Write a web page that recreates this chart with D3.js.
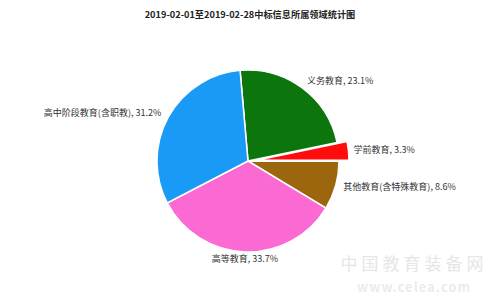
<!DOCTYPE html>
<html>
<head>
<meta charset="utf-8">
<script src="https://d3js.org/d3.v7.min.js"></script>
<style>
  body { margin: 0; background: #fff; }
  text { font-family: "Noto Sans CJK SC", "DejaVu Sans", sans-serif; }
</style>
</head>
<body>
<svg width="500" height="301"></svg>
<script>
    var categories = ["义务教育", "学前教育", "其他教育(含特殊教育)", "高等教育", "高中阶段教育(含职教)"];
    var values = [23.1, 3.3, 8.6, 33.7, 31.2];
    var colors = ["#0c760c", "#ff0d0d", "#9b660d", "#fb6ad3", "#1a9af7"];
    var exploded = [false, true, false, false, false];

    var svg = d3.select("svg");
    var cx = 248, cy = 161, radius = 91;

    svg.append("text")
        .attr("x", 250)
        .attr("y", 18)
        .attr("text-anchor", "middle")
        .attr("font-size", 9.2)
        .attr("font-weight", "bold")
        .attr("fill", "#222")
        .text("2019-02-01至2019-02-28中标信息所属领域统计图");

    var startOffset = -5 * Math.PI / 180;
    var pie = d3.pie().sort(null)
        .startAngle(startOffset)
        .endAngle(startOffset + 2 * Math.PI);

    var arcs = pie(values);
    var arc = d3.arc().innerRadius(0).outerRadius(radius);

    var g = svg.append("g").attr("transform", "translate(" + cx + "," + cy + ")");

    g.selectAll("path")
        .data(arcs)
        .enter().append("path")
        .attr("d", arc)
        .attr("fill", function(d, i) { return colors[i]; })
        .attr("stroke", "#fff")
        .attr("stroke-width", 1.5)
        .attr("transform", function(d, i) {
            if (!exploded[i]) return null;
            var a = (d.startAngle + d.endAngle) / 2;
            return "translate(" + (10 * Math.sin(a)) + "," + (-10 * Math.cos(a)) + ")";
        });

    // labels
    g.selectAll("text.lbl")
        .data(arcs)
        .enter().append("text")
        .attr("class", "lbl")
        .attr("font-size", 9)
        .attr("fill", "#333")
        .attr("dominant-baseline", "middle")
        .attr("x", function(d, i) {
            var a = (d.startAngle + d.endAngle) / 2;
            var r = exploded[i] ? 106 : 99;
            return r * Math.sin(a);
        })
        .attr("y", function(d, i) {
            var a = (d.startAngle + d.endAngle) / 2;
            var r = exploded[i] ? 106 : 99;
            return -r * Math.cos(a);
        })
        .attr("text-anchor", function(d) {
            var s = Math.sin((d.startAngle + d.endAngle) / 2);
            if (Math.abs(s) < 0.3) return "middle";
            return s > 0 ? "start" : "end";
        })
        .text(function(d, i) { return categories[i] + ", " + values[i].toFixed(1) + "%"; });

    // watermark
    svg.append("text")
        .attr("x", 414).attr("y", 270)
        .attr("text-anchor", "middle")
        .attr("font-size", 17)
        .attr("fill", "#e6e6e6")
        .attr("letter-spacing", 4)
        .text("中国教育装备网");
    svg.append("text")
        .attr("x", 414).attr("y", 292)
        .attr("text-anchor", "middle")
        .attr("font-size", 13)
        .attr("font-weight", "bold")
        .attr("fill", "#ececec")
        .attr("letter-spacing", 1)
        .text("www.celea.com");
</script>
</body>
</html>
